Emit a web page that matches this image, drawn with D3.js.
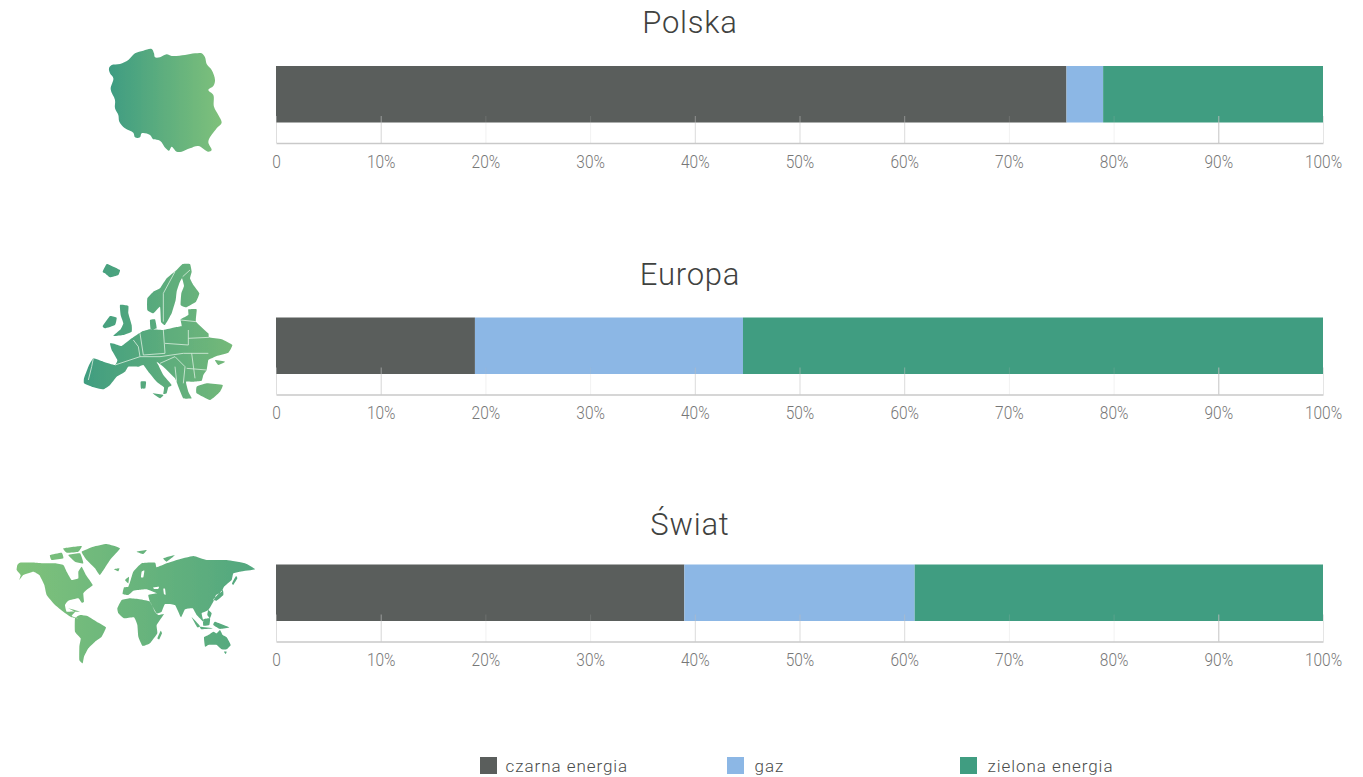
<!DOCTYPE html>
<html>
<head>
<meta charset="utf-8">
<script src="https://d3js.org/d3.v7.min.js"></script>
<style>
html, body { margin: 0; background: #fff; }
svg { display: block; }
text { font-family: Roboto, "Open Sans", sans-serif; }
</style>
</head>
<body>
<div id="chart"></div>
<script>
const regions = ["Polska", "Europa", "Świat"]
const seriesNames = ["czarna energia", "gaz", "zielona energia"]
const czarna = [75.5, 19, 39]
const gaz = [3.5, 25.6, 22]
const zielona = [21, 55.4, 39]
const tickValues = [0, 10, 20, 30, 40, 50, 60, 70, 80, 90, 100]
const seriesColors = ["#5a5e5c", "#8cb7e5", "#409d81"]

const width = 1363
const height = 777
const barTops = [66, 317.5, 564.5]
const titleY = [33, 285, 535]
const barHeight = 56.5
const axisGap = 77

// some gridlines come out much fainter than others in the reference
const tickOpacity = [0.5, 0.65, 0.2, 0.2, 0.55, 0.55, 0.55, 0.2, 0.2, 0.9, 0.4]

// map outlines (zoomed crop pixels, 3x)
const polandShape = [[327,205],[335,195],[360,192],[385,180],[405,160],[430,152],[455,147],[462,160],[465,172],[480,172],[500,163],[515,168],[555,165],[585,160],[605,160],[615,172],[620,192],[635,210],[645,240],[640,258],[625,270],[640,285],[642,320],[655,345],[665,368],[650,385],[625,425],[635,450],[625,455],[595,438],[570,445],[545,455],[530,455],[515,440],[507,452],[497,445],[480,422],[460,418],[450,405],[425,400],[420,412],[405,412],[400,398],[375,385],[358,365],[355,345],[345,325],[345,300],[332,268],[340,235],[330,220]]

const europeShapes = [
  [[128,65],[140,42],[160,50],[180,60],[175,75],[150,82],[135,70]],
  [[262,180],[262,145],[280,125],[300,115],[320,85],[350,60],[368,42],[390,42],[395,65],[390,85],[400,105],[418,130],[408,155],[378,172],[362,165],[364,130],[372,108],[366,85],[358,100],[350,125],[347,150],[335,190],[315,225],[303,215],[300,170],[280,190]],
  [[180,165],[205,168],[205,190],[215,225],[215,245],[190,255],[160,258],[182,238],[190,220],[182,195]],
  [[128,228],[150,198],[170,203],[165,225],[135,235]],
  [[270,210],[285,208],[290,235],[272,238]],
  [[72,385],[85,350],[100,325],[130,335],[165,345],[172,330],[155,300],[150,280],[165,282],[185,288],[215,265],[245,245],[270,238],[310,240],[345,232],[365,228],[362,208],[385,195],[385,178],[410,178],[408,215],[445,250],[447,262],[485,268],[517,285],[505,308],[470,318],[455,325],[445,330],[440,360],[430,375],[425,392],[400,395],[378,395],[385,425],[395,445],[370,445],[355,410],[345,385],[310,350],[290,335],[295,345],[310,375],[335,405],[325,412],[320,430],[310,432],[312,412],[290,395],[265,365],[250,345],[235,350],[205,350],[195,365],[170,380],[150,405],[130,418],[95,410],[72,400]],
  [[410,410],[440,400],[488,405],[480,425],[450,450],[410,430]],
  [[278,430],[310,435],[300,445]],
  [[242,395],[258,395],[256,415],[243,415]],
  [[465,330],[495,335],[475,345]]
]
const europeBorders = [
  [[100,325],[95,350],[85,390]],
  [[165,345],[195,335],[240,320],[235,290],[220,270]],
  [[240,250],[250,315],[315,310],[310,240]],
  [[315,280],[385,285],[385,240]],
  [[385,265],[447,262]],
  [[240,320],[300,320],[370,310],[445,310]],
  [[300,340],[345,320],[375,350],[370,400]],
  [[380,355],[440,360]],
  [[345,65],[310,130],[310,215]],
  [[368,80],[390,60]],
  [[362,210],[408,215]],
  [[345,350],[350,395]],
  [[395,310],[405,385]]
]

const worldShapes = [
  [[52,105],[60,98],[105,98],[135,100],[165,100],[190,105],[200,125],[215,150],[235,145],[235,125],[245,110],[258,135],[278,165],[262,178],[250,190],[252,215],[245,218],[235,205],[205,212],[195,225],[200,245],[225,245],[215,258],[235,265],[215,262],[190,245],[165,225],[140,195],[133,165],[118,135],[100,125],[70,135],[58,150],[62,135],[50,120]],
  [[205,75],[240,70],[250,100],[225,95]],
  [[150,75],[185,68],[190,85],[155,90]],
  [[190,55],[245,48],[235,65],[200,68]],
  [[245,65],[280,50],[320,42],[360,55],[330,90],[300,135],[285,115],[260,90]],
  [[225,265],[240,255],[262,258],[290,275],[318,292],[305,320],[285,335],[265,355],[252,380],[248,400],[238,390],[238,350],[242,325],[225,305]],
  [[352,235],[365,210],[390,205],[420,208],[450,215],[465,245],[475,255],[492,252],[470,285],[472,310],[450,340],[428,348],[415,320],[412,285],[402,262],[372,265],[355,250]],
  [[368,192],[372,172],[385,170],[392,150],[400,125],[425,100],[465,98],[470,112],[500,100],[530,90],[580,78],[620,90],[680,90],[735,100],[765,118],[720,125],[700,130],[695,150],[672,170],[665,185],[648,195],[640,215],[625,240],[605,250],[610,275],[590,255],[578,235],[555,238],[543,262],[525,225],[495,222],[485,245],[470,250],[450,215],[445,195],[470,190],[440,178],[415,180],[400,182],[385,195]],
  // Baltic, Black Sea and Caspian are cut out of Eurasia by the even-odd fill
  [[425,125],[433,122],[430,142],[423,142]],
  [[460,172],[477,170],[474,177],[462,177]],
  [[490,176],[495,176],[497,194],[492,192]],
  [[612,322],[625,315],[640,305],[650,310],[660,300],[668,315],[680,322],[692,345],[680,358],[665,358],[650,345],[625,345],[615,350]],
  [[672,365],[680,365],[677,372]],
  [[472,325],[482,302],[486,310],[478,328]],
  [[696,160],[708,138],[712,145],[700,165]],
  [[640,208],[668,180],[670,195],[650,212]],
  [[575,262],[600,288],[592,292]],
  [[600,290],[640,295],[605,298]],
  [[610,268],[630,265],[628,285],[610,287]],
  [[645,275],[688,292],[660,297],[640,285]],
  [[625,240],[635,250],[630,265],[622,255]],
  [[205,235],[240,245],[225,245]],
  [[342,118],[358,115],[355,124]],
  [[410,65],[440,60],[430,72]],
  [[490,85],[525,75],[500,95]],
  [[375,150],[387,140],[385,160]]
]

const x = d3.scaleLinear().domain([0, 100]).range([276, 1323])

const svg = d3.select("#chart").append("svg")
    .attr("width", width)
    .attr("height", height)

const defs = svg.append("defs")

function addGradient(id, from, to) {
    let g = defs.append("linearGradient").attr("id", id)
    g.append("stop").attr("offset", "0%").attr("stop-color", from)
    g.append("stop").attr("offset", "100%").attr("stop-color", to)
}
addGradient("polandFill", "#3e9c82", "#7fc17a")
addGradient("europeFill", "#409d80", "#74b979")
addGradient("worldFill", "#7fc27a", "#52a77f")

defs.append("filter").attr("id", "soft")
    .append("feGaussianBlur").attr("stdDeviation", 0.9)

const smooth = d3.line().curve(d3.curveCatmullRomClosed.alpha(0.5))
const tight = d3.line().curve(d3.curveCardinalClosed.tension(0.65))
const open = d3.line()

function drawMap(shapes, ox, oy, fillId, lineGen) {
    let g = svg.append("g")
        .attr("transform", `translate(${ox},${oy}) scale(${1 / 3})`)
        .attr("filter", "url(#soft)")
    g.append("path")
        .attr("d", shapes.map(s => lineGen(s)).join(""))
        .attr("fill-rule", "evenodd")
        .attr("fill", `url(#${fillId})`)
    return g
}

drawMap([polandShape], 0, 0, "polandFill", smooth)
let europeG = drawMap(europeShapes, 60, 250, "europeFill", tight)
europeG.selectAll(".border").data(europeBorders).join("path")
    .attr("class", "border")
    .attr("d", d => open(d))
    .attr("fill", "none")
    .attr("stroke", "#d6ecdc")
    .attr("stroke-width", 2.5)
drawMap(worldShapes, 0, 530, "worldFill", tight)

const rows = regions.map((name, i) => ({ name: name, values: [czarna[i], gaz[i], zielona[i]] }))

rows.forEach((row, i) => {
    let top = barTops[i]

    svg.append("text")
        .attr("x", 690)
        .attr("y", titleY[i])
        .attr("text-anchor", "middle")
        .attr("font-size", "31px")
        .attr("font-weight", 300)
        .attr("letter-spacing", "0.8px")
        .attr("fill", "#3f4240")
        .text(row.name)

    let stacked = d3.stack().keys(d3.range(3))([row.values])
    svg.append("g").selectAll("rect").data(stacked).join("rect")
        .attr("x", d => x(d[0][0]))
        .attr("y", top)
        .attr("width", d => x(d[0][1]) - x(d[0][0]))
        .attr("height", barHeight)
        .attr("fill", (d, j) => seriesColors[j])

    let axis = d3.axisBottom(x)
        .tickValues(tickValues)
        .tickSize(0)
        .tickPadding(12)
        .tickFormat(d => d === 0 ? "0" : d + "%")

    let axisG = svg.append("g")
        .attr("transform", `translate(0,${top + axisGap})`)
        .call(axis)

    axisG.select(".domain").attr("stroke", "#c9c9c9").attr("stroke-width", 1.5)
    axisG.selectAll(".tick line")
        .attr("y2", -27)
        .attr("stroke", "#bdbdbd")
        .attr("stroke-opacity", (d, j) => tickOpacity[j])
    axisG.selectAll(".tick text")
        .attr("font-size", "18px")
        .attr("font-weight", 300)
        .attr("transform", "scale(0.86,1)")
        .attr("fill", "#777")
})

const legendX = [480, 727, 960]
let legend = svg.append("g").selectAll("g").data(seriesNames).join("g")
    .attr("transform", (d, i) => `translate(${legendX[i]},757)`)
legend.append("rect")
    .attr("width", 17)
    .attr("height", 17)
    .attr("fill", (d, i) => seriesColors[i])
legend.append("text")
    .attr("x", (d, i) => i === 0 ? 25.5 : 27.5)
    .attr("y", 14.5)
    .attr("font-size", "17px")
    .attr("font-weight", 300)
    .attr("letter-spacing", "0.95px")
    .attr("fill", "#4a4c4b")
    .text(d => d)
</script>
</body>
</html>
